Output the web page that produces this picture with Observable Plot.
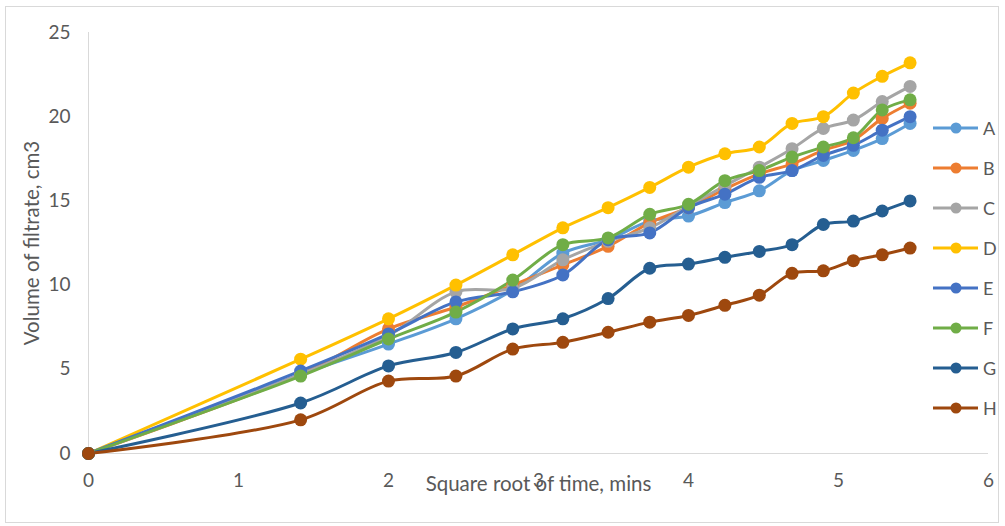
<!DOCTYPE html>
<html><head><meta charset="utf-8">
<script src="https://cdn.jsdelivr.net/npm/d3@7"></script>
<script src="https://cdn.jsdelivr.net/npm/@observablehq/plot@0.6"></script>
<style>
body{margin:0;background:#fff;font-family:Lato,"Open Sans",sans-serif;}
#wrap{position:relative;width:1005px;height:526px;}
#border{position:absolute;left:5px;top:6px;width:994px;height:517px;border:1px solid #d9d9d9;box-sizing:border-box;}
#legend{position:absolute;left:933px;top:0;}
.li{position:absolute;left:0;height:20px;display:flex;align-items:center;font-size:18px;color:#595959;}
</style></head>
<body><div id="wrap"><div id="border"></div><div id="chart"></div><div id="legend"></div></div>
<script>
const minutes = [0,2,4,6,8,10,12,14,16,18,20,22,24,26,28,30];
const seriesNames = ["A","B","C","D","E","F","G","H"];
const colors = ["#5B9BD5","#ED7D31","#A5A5A5","#FFC000","#4472C4","#70AD47","#255E91","#9E480E"];
const A = [0,4.7,6.5,8.0,9.7,11.9,12.7,13.8,14.1,14.9,15.6,16.8,17.4,18.0,18.7,19.6];
const B = [0,4.7,7.4,8.7,10.0,11.2,12.3,13.7,14.6,15.7,16.6,17.2,18.0,18.6,19.9,20.8];
const C = [0,4.7,7.0,9.6,9.8,11.5,12.6,13.4,14.7,15.9,17.0,18.1,19.3,19.8,20.9,21.8];
const D = [0,5.6,8.0,10.0,11.8,13.4,14.6,15.8,17.0,17.8,18.2,19.6,20.0,21.4,22.4,23.2];
const E = [0,4.9,7.1,9.0,9.6,10.6,12.7,13.1,14.6,15.4,16.4,16.8,17.7,18.3,19.2,20.0];
const F = [0,4.6,6.8,8.4,10.3,12.4,12.8,14.2,14.8,16.2,16.8,17.6,18.2,18.75,20.4,21.0];
const G = [0,3.0,5.2,6.0,7.4,8.0,9.2,11.0,11.25,11.65,12.0,12.4,13.6,13.8,14.4,15.0];
const H = [0,2.0,4.3,4.6,6.2,6.6,7.2,7.8,8.2,8.8,9.4,10.7,10.85,11.45,11.8,12.2];
const xTicks = [0,1,2,3,4,5,6];
const yTicks = [0,5,10,15,20,25];

const values = [A,B,C,D,E,F,G,H];
const data = [];
seriesNames.forEach((s,i)=>values[i].forEach((v,j)=>data.push({series:s, x:Math.sqrt(minutes[j]), y:v})));

const textColor = "#595959";
const chart = Plot.plot({
  width:1005, height:526,
  marginLeft:88, marginRight:17, marginTop:32, marginBottom:73,
  style:{fontFamily:"Lato, 'Open Sans', sans-serif", fontSize:"19px", color:textColor, background:"transparent"},
  x:{domain:[0,6]},
  y:{domain:[0,25]},
  color:{domain:seriesNames, range:colors},
  marks:[
    Plot.ruleX([0],{stroke:"#d9d9d9", strokeWidth:1}),
    Plot.ruleY([0],{stroke:"#d9d9d9", strokeWidth:1}),
    Plot.axisX({ticks:xTicks, tickFormat:"d", tickSize:0, tickPadding:20, fontSize:19, label:"Square root of time, mins", labelAnchor:"center", labelArrow:"none", labelOffset:37}),
    Plot.axisY({ticks:yTicks, tickFormat:"d", tickSize:0, tickPadding:18, fontSize:19, label:"Volume of filtrate, cm3", labelAnchor:"center", labelArrow:"none", labelOffset:64}),
    Plot.line(data,{x:"x", y:"y", z:"series", stroke:"series", strokeWidth:3, curve:"catmull-rom"}),
    Plot.dot(data,{x:"x", y:"y", fill:"series", r:6.5})
  ]
});
document.getElementById("chart").appendChild(chart);
chart.querySelectorAll("g[aria-label='x-axis label'] text, g[aria-label='y-axis label'] text").forEach(t=>t.setAttribute("font-size","20.5"));

const legend = document.getElementById("legend");
seriesNames.forEach((s,i)=>{
  const d = document.createElement("div");
  d.className="li";
  d.style.top = (118 + i*40) + "px";
  d.innerHTML = `<svg width="48" height="20"><line x1="0" y1="10" x2="45" y2="10" stroke="${colors[i]}" stroke-width="3"/><circle cx="23" cy="10" r="5.5" fill="${colors[i]}"/></svg><span style="margin-left:2px">${s}</span>`;
  legend.appendChild(d);
});
</script></body></html>
